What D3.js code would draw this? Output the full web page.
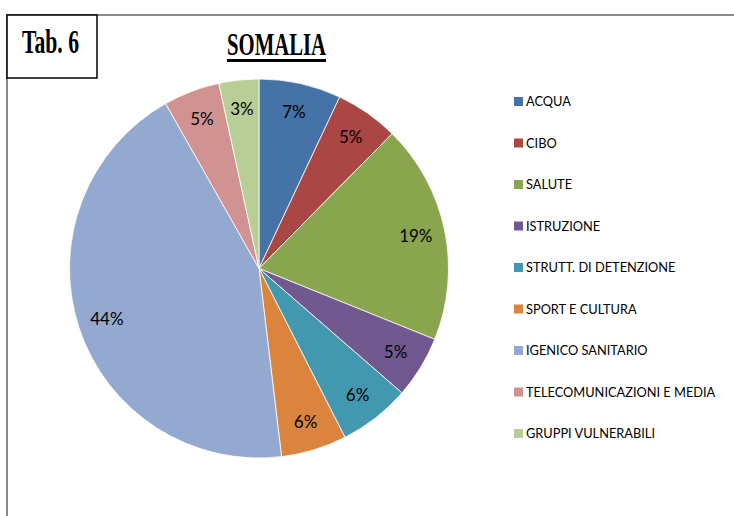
<!DOCTYPE html>
<html>
<head>
  <meta charset="utf-8">
  <script src="https://d3js.org/d3.v7.min.js"></script>
  <style>
    body { margin: 0; background: #fff; }
    .lbl { font-family: Lato, "Open Sans", sans-serif; }
  </style>
</head>
<body>
  <svg width="734" height="516"></svg>
  <script>
    // categories and shares
    var categories = ["ACQUA", "CIBO", "SALUTE", "ISTRUZIONE", "STRUTT. DI DETENZIONE",
      "SPORT E CULTURA", "IGENICO SANITARIO", "TELECOMUNICAZIONI E MEDIA", "GRUPPI VULNERABILI"];
    var values = [7.0, 5.4, 18.7, 5.3, 6.1, 5.6, 43.7, 4.8, 3.4];
    var colors = ["#4572A7", "#AA4643", "#89A54E", "#71588F", "#4198AF",
      "#DB843D", "#93A9CF", "#D19392", "#B9CD96"];
    var tabLabel = "Tab. 6";
    var title = "SOMALIA";

    var svg = d3.select("svg");

    // outer frame
    svg.append("path")
      .attr("d", "M7,516 V15 H734")
      .attr("fill", "none")
      .attr("stroke", "#8a8a8a")
      .attr("stroke-width", 2);

    // tab box
    svg.append("rect")
      .attr("x", 7).attr("y", 15).attr("width", 90).attr("height", 63)
      .attr("fill", "#fff").attr("stroke", "#000").attr("stroke-width", 1.5);
    svg.append("text")
      .attr("x", 22).attr("y", 53)
      .attr("font-family", "Liberation Serif, serif")
      .attr("font-weight", "bold")
      .attr("font-size", 33)
      .attr("textLength", 57).attr("lengthAdjust", "spacingAndGlyphs")
      .text(tabLabel);

    // title
    svg.append("text")
      .attr("x", 227).attr("y", 55)
      .attr("font-family", "Liberation Serif, serif")
      .attr("font-weight", "bold")
      .attr("font-size", 31)
      .attr("textLength", 99).attr("lengthAdjust", "spacingAndGlyphs")
      .text(title);
    svg.append("line")
      .attr("x1", 227).attr("x2", 326).attr("y1", 60.5).attr("y2", 60.5)
      .attr("stroke", "#000").attr("stroke-width", 3);

    // pie
    var cx = 259, cy = 268.5, r = 189.5;
    var color = d3.scaleOrdinal().domain(categories).range(colors);
    var pie = d3.pie().sort(null).value(function(d) { return d.value; });
    var data = categories.map(function(c, i) { return { name: c, value: values[i] }; });
    var total = d3.sum(values);
    var arcs = pie(data);
    var arc = d3.arc().innerRadius(0).outerRadius(r);
    var labelArc = d3.arc().innerRadius(r * 0.845).outerRadius(r * 0.845);

    var g = svg.append("g").attr("transform", "translate(" + cx + "," + cy + ")");
    g.selectAll("path")
      .data(arcs)
      .enter()
      .append("path")
      .attr("d", arc)
      .attr("fill", function(d) { return color(d.data.name); })
      .attr("stroke", "#fff")
      .attr("stroke-width", 0.8);

    g.selectAll("text")
      .data(arcs)
      .enter()
      .append("text")
      .attr("class", "lbl")
      .attr("transform", function(d) { return "translate(" + labelArc.centroid(d) + ")"; })
      .attr("text-anchor", "middle")
      .attr("dy", "0.36em")
      .attr("font-size", 17)
      .attr("fill", "#000")
      .text(function(d) { return Math.round(d.data.value / total * 100) + "%"; });

    // legend
    var ly = d3.scalePoint().domain(categories).range([101.5, 433.5]);
    var leg = svg.append("g").selectAll("g")
      .data(categories)
      .enter()
      .append("g")
      .attr("transform", function(d) { return "translate(514," + ly(d) + ")"; });
    leg.append("rect")
      .attr("x", 0).attr("y", -4.5).attr("width", 9).attr("height", 9)
      .attr("fill", function(d) { return color(d); });
    leg.append("text")
      .attr("class", "lbl")
      .attr("x", 12).attr("dy", "0.36em")
      .attr("font-size", 12.8)
      .attr("fill", "#000")
      .text(function(d) { return d; });
  </script>
</body>
</html>
